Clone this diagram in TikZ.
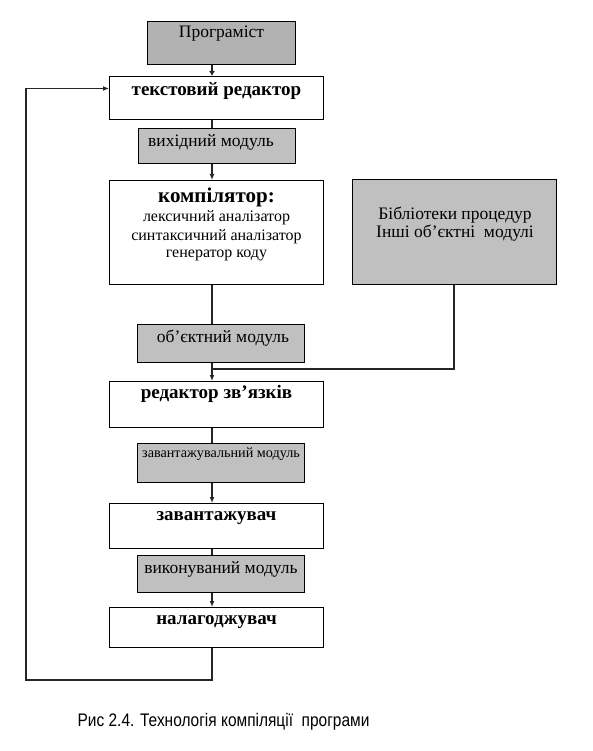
\documentclass[tikz,border=0pt]{standalone}
\usepackage{fontspec}
\setmainfont{Liberation Serif}
\newfontfamily\capfont{Liberation Sans}
\usetikzlibrary{arrows.meta,calc}
\definecolor{boxgray}{RGB}{192,192,192}
\definecolor{proggray}{RGB}{178,178,178}
\tikzset{
  box/.style={draw=black, line width=1pt, rectangle, inner sep=0pt, anchor=north west},
  wbox/.style={box, fill=white},
  gbox/.style={box, fill=boxgray},
  txt/.style={inner sep=0pt, anchor=center, font=\fontsize{17.5}{20}\selectfont},
  ctxt/.style={inner sep=0pt, anchor=center, font=\fontsize{16}{19}\selectfont},
  btxt/.style={inner sep=0pt, anchor=center, font=\fontsize{19}{22}\selectfont\bfseries},
  conn/.style={line width=1.5pt, draw=black!85},
  arr/.style={conn, -{Latex[length=6pt,width=5pt]}},
}
\begin{document}
\begin{tikzpicture}[x=1pt,y=-1pt]
\useasboundingbox (0,0) rectangle (592,751);
\coordinate (axis) at (212,0);
% boxes
\node[box, fill=proggray, minimum width=148pt, minimum height=43pt] (prog) at (147,21) {};
\node[wbox, minimum width=214pt, minimum height=43pt] (ted) at (109,76) {};
\node[gbox, minimum width=157pt, minimum height=35pt] (vyh) at (138,128) {};
\node[wbox, minimum width=214pt, minimum height=104pt] (comp) at (109,180) {};
\node[gbox, minimum width=204pt, minimum height=105pt] (lib) at (352,179) {};
\node[gbox, minimum width=167pt, minimum height=38pt] (obj) at (137,324) {};
\node[wbox, minimum width=214pt, minimum height=46pt] (red) at (109,381) {};
\node[gbox, minimum width=167pt, minimum height=39pt] (zmod) at (137,443) {};
\node[wbox, minimum width=214pt, minimum height=45pt] (zav) at (109,503) {};
\node[gbox, minimum width=167pt, minimum height=37pt] (vyk) at (137,555) {};
\node[wbox, minimum width=214pt, minimum height=40pt] (nal) at (109,607) {};
% texts
\node[txt] (tprog) at (prog.center |- 0,34) {Програміст};
\node[btxt] (tted) at (ted.center |- 0,91) {текстовий редактор};
\node[txt] (tvyh) at (211,142) {вихідний модуль};
\node[inner sep=0pt, font=\fontsize{21}{24}\selectfont\bfseries] (tcomp) at (comp.center |- 0,197) {компілятор:};
\node[ctxt] (tc1) at (comp.center |- 0,218) {лексичний аналізатор};
\node[ctxt] (tc2) at (comp.center |- 0,237) {синтаксичний аналізатор};
\node[ctxt] (tc3) at (comp.center |- 0,255) {генератор коду};
\node[txt] (tl1) at (455,215) {Бібліотеки процедур};
\node[txt] (tl2) at (455,233) {Інші об’єктні\ \ модулі};
\node[txt] (tobj) at (223,338) {об’єктний модуль};
\node[btxt] (tred) at (red.center |- 0,394) {редактор зв’язків};
\node[inner sep=0pt, font=\fontsize{14.2}{17}\selectfont] (tzmod) at (zmod.center |- 0,454) {завантажувальний модуль};
\node[btxt] (tzav) at (zav.center |- 0,518) {завантажувач};
\node[txt] (tvyk) at (vyk.center |- 0,569) {виконуваний модуль};
\node[btxt] (tnal) at (nal.center |- 0,622) {налагоджувач};
% connectors
\draw[conn, line width=2.2pt, -{Latex[length=5pt,width=6pt]}] (prog.south -| axis) -- (ted.north -| axis);
\draw[conn] (ted.south -| axis) -- (vyh.north -| axis);
\draw[arr] (vyh.south -| axis) -- (comp.north -| axis);
\draw[conn] (comp.south -| axis) -- (obj.north -| axis);
\coordinate (join) at (212,369);
\draw[arr] (obj.south -| axis) -- (red.north -| axis);
\draw[conn] (lib.south -| 454,0) |- (join);
\draw[conn] (red.south -| axis) -- (zmod.north -| axis);
\draw[arr] (zmod.south -| axis) -- (zav.north -| axis);
\draw[conn] (zav.south -| axis) -- (vyk.north -| axis);
\draw[arr] (vyk.south -| axis) -- (nal.north -| axis);
\coordinate (lc) at (26,680);
\draw[arr] (nal.south -| axis) |- (lc) |- ($(ted.west)+(0,-9.5)$);
% caption
\node[inner sep=0pt, font=\fontsize{18.2}{21}\capfont] (cap) at (223.5,722) {\scalebox{0.85}[1]{Рис 2.4. Технологія компіляції\ \ програми}};
\end{tikzpicture}
\end{document}
